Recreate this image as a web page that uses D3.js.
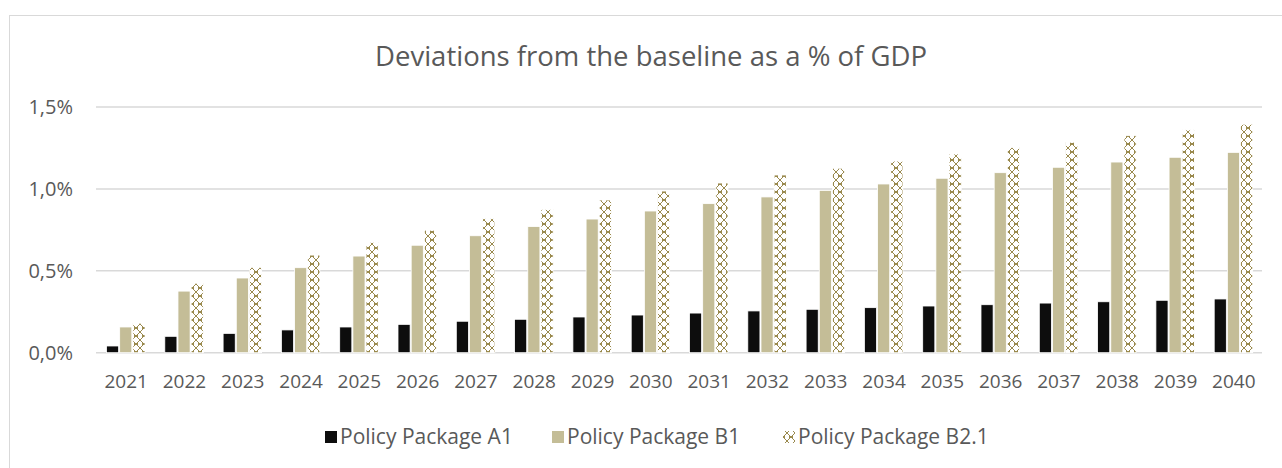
<!DOCTYPE html>
<html>
<head>
<meta charset="utf-8">
<script src="https://cdn.jsdelivr.net/npm/d3@7"></script>
<style>
  html, body { margin: 0; padding: 0; background: #fff; }
  svg { display: block; }
  text { font-family: "Open Sans", "Noto Sans", sans-serif; fill: #595959; }
</style>
</head>
<body>
<svg id="chart" width="1282" height="468"></svg>
<script>
const years = ["2021","2022","2023","2024","2025","2026","2027","2028","2029","2030",
               "2031","2032","2033","2034","2035","2036","2037","2038","2039","2040"];
const seriesNames = ["Policy Package A1", "Policy Package B1", "Policy Package B2.1"];
const packageA1  = [0.041,0.100,0.118,0.139,0.157,0.173,0.192,0.204,0.218,0.230,
                    0.242,0.255,0.265,0.275,0.285,0.293,0.303,0.311,0.320,0.328];
const packageB1  = [0.157,0.376,0.456,0.519,0.590,0.656,0.714,0.770,0.816,0.865,
                    0.910,0.951,0.991,1.030,1.065,1.099,1.132,1.164,1.193,1.223];
const packageB21 = [0.180,0.424,0.521,0.596,0.674,0.748,0.818,0.875,0.932,0.987,
                    1.036,1.085,1.126,1.170,1.213,1.252,1.285,1.325,1.360,1.395];
const yTicks = [0, 0.5, 1.0, 1.5];
const title = "Deviations from the baseline as a % of GDP";

const seriesValues = [packageA1, packageB1, packageB21];
const fills = ["#0d0d0d", "#c4bd97", "url(#confetti)"];

const svg = d3.select("#chart");

// pattern
const defs = svg.append("defs");
const pat = defs.append("pattern").attr("id", "confetti")
  .attr("patternUnits", "userSpaceOnUse").attr("width", 8).attr("height", 8);
pat.append("rect").attr("width", 8).attr("height", 8).attr("fill", "#ffffff");
const bitmap = ["XX....XX", ".X....X.", "..X..X..", "...XX...", "...XX...", "..X..X..", ".X....X.", "XX....XX"];
bitmap.forEach((row, r) => row.split("").forEach((c, k) => {
  if (c === "X") pat.append("rect").attr("x", k).attr("y", r).attr("width", 1).attr("height", 1).attr("fill", "#9a8a4e");
}));

// frame
svg.append("rect").attr("x", 9.5).attr("y", 15.5).attr("width", 1290).attr("height", 500)
  .attr("fill", "#fff").attr("stroke", "#d9d9d9").attr("stroke-width", 1);

const plotLeft = 96, plotRight = 1262, plotTop = 107, plotBottom = 352.7;
const x0 = d3.scaleBand().domain(years).range([plotLeft, plotRight]).padding(0);
const x1 = d3.scaleBand().domain(seriesNames).range([10.5, 49]).paddingInner(0.08);
const y = d3.scaleLinear().domain([0, 1.5]).range([plotBottom, plotTop]);

// grid
svg.append("g").selectAll("line").data(yTicks).join("line")
  .attr("x1", plotLeft).attr("x2", plotRight)
  .attr("y1", d => y(d)).attr("y2", d => y(d))
  .attr("stroke", "#d9d9d9").attr("stroke-width", 1.5);

// y labels
const fmt = d => d3.format(".1f")(d).replace(".", ",") + "%";
svg.append("g").selectAll("text").data(yTicks).join("text")
  .attr("x", 73).attr("y", d => y(d)).attr("dy", "0.35em")
  .attr("text-anchor", "end").attr("font-size", 20).text(fmt);

// bars
const rows = [];
years.forEach((yr, i) => seriesNames.forEach((s, j) => rows.push({yr, s, j, v: seriesValues[j][i]})));
svg.append("g").selectAll("rect").data(rows).join("rect")
  .attr("x", d => x0(d.yr) + x1(d.s))
  .attr("width", x1.bandwidth())
  .attr("y", d => y(d.v))
  .attr("height", d => y(0) - y(d.v))
  .attr("fill", d => fills[d.j])
  .attr("stroke", "#ffffff").attr("stroke-width", 0.8);

// x labels
svg.append("g").selectAll("text").data(years).join("text")
  .attr("x", d => x0(d) + x0.bandwidth() / 2 + 1).attr("y", 381).attr("dy", "0.35em")
  .attr("text-anchor", "middle").attr("font-size", 19).text(d => d);

// title
svg.append("text").attr("x", 651).attr("y", 66).attr("text-anchor", "middle")
  .attr("font-size", 27.5).text(title);

// legend
const legendX = [325, 552, 783];
const lg = svg.append("g").selectAll("g").data(seriesNames).join("g")
  .attr("transform", (d, i) => `translate(${legendX[i]},437)`);
lg.append("rect").attr("x", 0).attr("y", -6).attr("width", 12).attr("height", 12)
  .attr("fill", (d, i) => fills[i]);
lg.append("text").attr("x", 15).attr("y", 0).attr("dy", "0.35em")
  .attr("font-size", 21).text(d => d);
</script>
</body>
</html>
